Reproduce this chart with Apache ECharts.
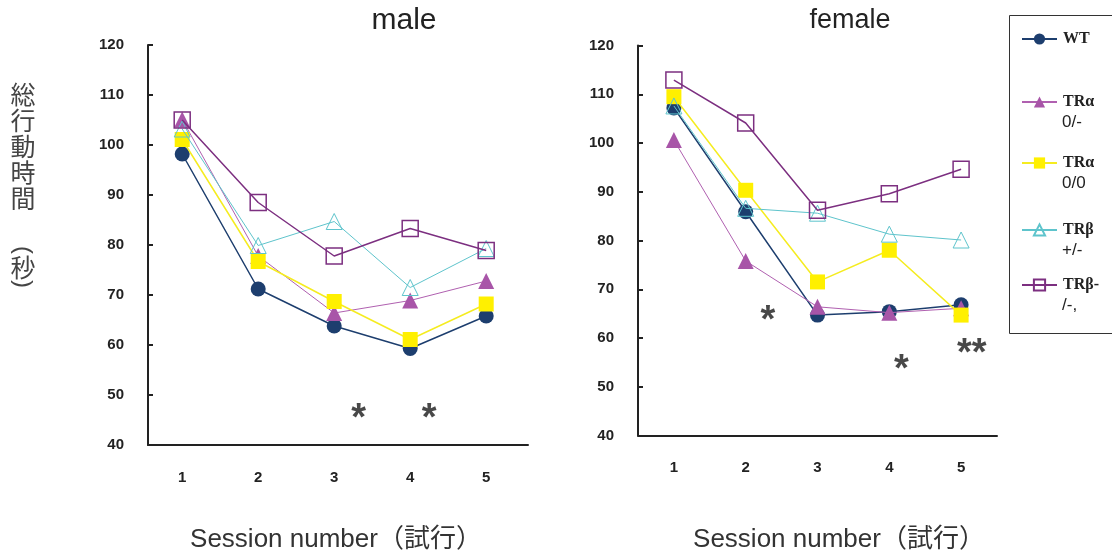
<!DOCTYPE html>
<html>
<head>
<meta charset="utf-8">
<script src="https://cdn.jsdelivr.net/npm/echarts@6/dist/echarts.min.js"></script>
<style>
    html, body { margin: 0; padding: 0; background: #fff; }
    #chart { width: 1112px; height: 557px; }
</style>
</head>
<body>
<div id="chart"></div>
<script>
// session numbers (x)
const sessions = [1, 2, 3, 4, 5];
const yTicks = [40, 50, 60, 70, 80, 90, 100, 110, 120];

// 総行動時間（秒） - male
const maleWT = [98.2, 71.2, 63.8, 59.3, 65.8];
const maleTRa0m = [105.1, 77.8, 66.4, 68.9, 72.8];
const maleTRa00 = [101.1, 76.7, 68.7, 61.1, 68.2];
const maleTRbPm = [103.2, 79.9, 84.7, 71.5, 79.3];
const maleTRbMm = [105.0, 88.5, 77.8, 83.3, 78.9];

// female
const femaleWT = [107.2, 85.9, 64.7, 65.4, 66.8];
const femaleTRa0m = [100.6, 75.8, 66.4, 65.2, 66.1];
const femaleTRa00 = [109.5, 90.3, 71.5, 78.0, 64.7];
const femaleTRbPm = [107.6, 86.6, 85.6, 81.3, 80.1];
const femaleTRbMm = [112.9, 104.1, 86.2, 89.6, 94.6];

// significance marks [session, value, text]
const maleStars = [[3.32, 45.0, '*'], [4.25, 45.0, '*']];
const femaleStars = [[2.31, 63.4, '*'], [4.17, 53.4, '*'], [5.15, 56.7, '**']];

const seriesNames = ['WT', 'TRα 0/-', 'TRα 0/0', 'TRβ +/-', 'TRβ-/-,'];
const legendFirst = ['WT', 'TRα', 'TRα', 'TRβ', 'TRβ-'];
const legendSecond = ['', '0/-', '0/0', '+/-', '/-,'];

// marker / line style per group
const styles = [
    {symbol: 'circle', size: 15, item: {color: '#1D3E6E'}, line: {color: '#1D3E6E', width: 1.5}},
    {symbol: 'triangle', size: 16, item: {color: '#A855A8'}, line: {color: '#B060B0', width: 1}},
    {symbol: 'rect', size: 15, item: {color: '#FFF000'}, line: {color: '#F5EC20', width: 1.5}},
    {symbol: 'triangle', size: 16, item: {color: 'rgba(0,0,0,0)', borderColor: '#5EC4CC', borderWidth: 1}, line: {color: '#5EC4CC', width: 1}},
    {symbol: 'rect', size: 16, item: {color: 'rgba(0,0,0,0)', borderColor: '#7C2F80', borderWidth: 1.5}, line: {color: '#7C2F80', width: 1.5}}
];

const maleData = [maleWT, maleTRa0m, maleTRa00, maleTRbPm, maleTRbMm];
const femaleData = [femaleWT, femaleTRa0m, femaleTRa00, femaleTRbPm, femaleTRbMm];

function lineSeries(values, i, gridIndex) {
    const s = styles[i];
    return {
        name: seriesNames[i],
        type: 'line',
        xAxisIndex: gridIndex,
        yAxisIndex: gridIndex,
        symbol: s.symbol,
        symbolSize: s.size,
        itemStyle: s.item,
        lineStyle: s.line,
        emphasis: {disabled: true},
        z: 2 + i,
        data: values.map(function (v, k) { return [sessions[k], v]; })
    };
}

function starSeries(stars, gridIndex) {
    return {
        type: 'scatter',
        xAxisIndex: gridIndex,
        yAxisIndex: gridIndex,
        symbolSize: 1,
        itemStyle: {color: 'rgba(0,0,0,0)'},
        silent: true,
        label: {
            show: true,
            position: 'inside',
            formatter: function (p) { return p.data[2]; },
            fontSize: 38,
            fontWeight: 'bold',
            fontFamily: 'Liberation Sans',
            color: '#1a1a1a'
        },
        data: stars
    };
}

function yAxis(gridIndex) {
    return {
        type: 'value',
        gridIndex: gridIndex,
        min: 40,
        max: 120,
        interval: 10,
        axisLine: {show: true, lineStyle: {color: '#222', width: 2}},
        axisTick: {show: true, inside: true, length: 5, lineStyle: {color: '#222', width: 2}},
        splitLine: {show: false},
        axisLabel: {
            margin: 24,
            fontSize: 15,
            fontWeight: 'bold',
            fontFamily: 'Liberation Sans',
            color: '#222',
            customValues: yTicks
        }
    };
}

function xAxis(gridIndex, min, max) {
    return {
        type: 'value',
        gridIndex: gridIndex,
        min: min,
        max: max,
        axisLine: {show: true, onZero: false, lineStyle: {color: '#222', width: 2}},
        axisTick: {show: false},
        splitLine: {show: false},
        axisLabel: {
            margin: 25,
            fontSize: 15,
            fontWeight: 'bold',
            fontFamily: 'Liberation Sans',
            color: '#222',
            customValues: sessions
        }
    };
}

// legend: one component per item so the rows sit where the original has them
const legendRowY = [38, 101, 162, 229, 284];
const legends = seriesNames.map(function (name, i) {
    return {
        data: [name],
        left: 1021,
        top: legendRowY[i] - 7,
        padding: 0,
        itemWidth: 35,
        itemHeight: 14,
        selectedMode: false,
        formatter: function () { return legendFirst[i]; },
        textStyle: {
            fontFamily: 'Liberation Serif',
            fontWeight: 'bold',
            fontSize: 16,
            color: '#222',
            padding: [0, 0, 0, 1]
        }
    };
});

// vertical y-axis title; the brackets are turned so they read as vertical text
const yNameFont = '25px "Noto Sans CJK JP"';
const xNameFont = '26px "Liberation Sans", "Noto Sans CJK JP"';
const graphics = [
    {type: 'text', x: 404, y: 21, style: {text: 'male', font: '30px "Liberation Sans"', fill: '#222', align: 'center', verticalAlign: 'middle'}},
    {type: 'text', x: 850, y: 21, style: {text: 'female', font: '27px "Liberation Sans"', fill: '#222', align: 'center', verticalAlign: 'middle'}},
    {type: 'text', x: 336, y: 540, style: {text: 'Session number（試行）', font: xNameFont, fill: '#333', align: 'center', verticalAlign: 'middle'}},
    {type: 'text', x: 839, y: 540, style: {text: 'Session number（試行）', font: xNameFont, fill: '#333', align: 'center', verticalAlign: 'middle'}},
    {type: 'text', x: 23, y: 81, style: {text: '総\n行\n動\n時\n間', font: yNameFont, lineHeight: 26, fill: '#444', align: 'center'}},
    {type: 'text', x: 23, y: 250, rotation: -Math.PI / 2, style: {text: '(', font: '24px "Liberation Sans"', fill: '#444', align: 'center', verticalAlign: 'middle'}},
    {type: 'text', x: 23, y: 267, style: {text: '秒', font: yNameFont, fill: '#444', align: 'center', verticalAlign: 'middle'}},
    {type: 'text', x: 23, y: 284, rotation: -Math.PI / 2, style: {text: ')', font: '24px "Liberation Sans"', fill: '#444', align: 'center', verticalAlign: 'middle'}},
    {type: 'rect', shape: {x: 1009.5, y: 15.5, width: 110, height: 318}, style: {fill: 'none', stroke: '#333', lineWidth: 1}}
];
legendSecond.forEach(function (t, i) {
    if (t) {
        graphics.push({type: 'text', x: 1062, y: legendRowY[i] + 21, style: {text: t, font: '17px "Liberation Sans"', fill: '#222', verticalAlign: 'middle'}});
    }
});

const series = [];
maleData.forEach(function (v, i) { series.push(lineSeries(v, i, 0)); });
femaleData.forEach(function (v, i) { series.push(lineSeries(v, i, 1)); });
series.push(starSeries(maleStars, 0));
series.push(starSeries(femaleStars, 1));

const myChart = echarts.init(document.getElementById('chart'), null, {renderer: 'canvas'});
myChart.setOption({
    backgroundColor: '#fff',
    animation: false,
    grid: [
        {left: 148, top: 45, width: 380, height: 400},
        {left: 638, top: 45.5, width: 359, height: 390}
    ],
    xAxis: [xAxis(0, 0.55, 5.55), xAxis(1, 0.5, 5.5)],
    yAxis: [yAxis(0), yAxis(1)],
    legend: legends,
    graphic: graphics,
    series: series
});
</script>
</body>
</html>
